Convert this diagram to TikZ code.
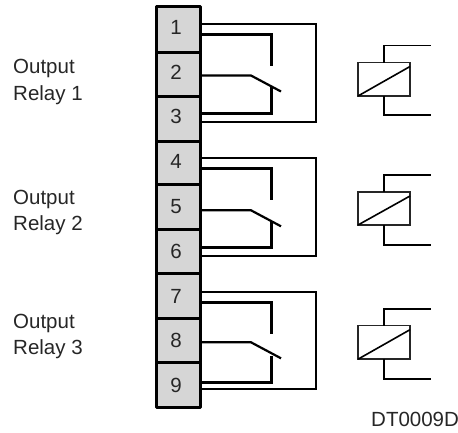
\documentclass[tikz,border=0pt]{standalone}
\usepackage{fontspec}
\setmainfont{Liberation Sans}
\usetikzlibrary{calc}
\newcommand{\dg}[2]{\hspace*{-4.5pt}\raisebox{#1pt}[\height][\depth]{#2}}
\tikzset{
  x=1pt,y=-1pt,
  term/.style={draw=black,line width=3pt,line join=round,outer sep=0pt,fill=black!16,minimum width=43.5pt,inner sep=0pt,font=\fontsize{20.5}{20.5}\selectfont,text=black!85,anchor=north west},
  coil/.style={draw=black!85,line width=1.5pt,outer sep=0pt,fill=white,minimum width=52pt,inner sep=0pt,anchor=north west},
  label/.style={anchor=base west,inner sep=0pt,font=\fontsize{20.5}{20.5}\selectfont,text=black!85},
  thinw/.style={line width=1.7pt,line join=miter},
  thickw/.style={line width=3pt,line join=miter}
}
\newcommand{\relaycontacts}[9]{%
  \coordinate (#1oa) at (316,#5);
  \coordinate (#1ob) at (316,#6);
  \coordinate (#1ta) at (271,#7);
  \coordinate (#1tb) at (271,#7+31.5);
  \coordinate (#1ba) at (271,#8);
  \coordinate (#1bb) at (271,#8-26);
  \coordinate (#1ca) at (251,#9);
  \coordinate (#1cb) at (281,#9+16);
  \draw[thinw] (#2.east |- #1oa) -- (#1oa) -- (#1ob) -- (#4.east |- #1ob);
  \draw[thickw] (#2.east |- #1ta) -- (#1ta) -- (#1tb);
  \draw[thickw] (#4.east |- #1ba) -- (#1ba) -- (#1bb);
  \draw[thinw,line width=2.2pt] (#3.east |- #1ca) -- (#1ca) -- (#1cb);
}
\newcommand{\relaycoil}[5]{%
  \node[coil,minimum height=#3pt] (#1c) at (358,#2) {};
  \coordinate (#1la) at (431,#4);
  \coordinate (#1lb) at (431,#5);
  \draw[thinw] ($(#1c.north west)!0.5!(#1c.north east)$) |- (#1la);
  \draw[thinw] ($(#1c.south west)!0.5!(#1c.south east)$) |- (#1lb);
  \draw[line width=1.6pt] (#1c.south west) -- ($(#1c.north east)+(0,4)$);
}
\begin{document}
\begin{tikzpicture}
\useasboundingbox (0,0) rectangle (458,432);
\node[term,minimum height=46pt] (t1) at (156.5,6) {\dg{1.7}{1}};
\node[term,minimum height=44pt] (t2) at (156.5,52) {\dg{2}{2}};
\node[term,minimum height=45pt] (t3) at (156.5,96) {\dg{1.8}{3}};
\node[term,minimum height=43pt] (t4) at (156.5,141) {\dg{0.8}{4}};
\node[term,minimum height=45pt] (t5) at (156.5,184) {\dg{-0.2}{5}};
\node[term,minimum height=44pt] (t6) at (156.5,229) {\dg{0}{6}};
\node[term,minimum height=45pt] (t7) at (156.5,273) {\dg{-0.5}{7}};
\node[term,minimum height=44pt] (t8) at (156.5,318) {\dg{0}{8}};
\node[term,minimum height=45pt] (t9) at (156.5,362) {\dg{-0.5}{9}};

\relaycontacts{a}{t1}{t2}{t3}{24}{122}{34}{113}{75.5}
\relaycontacts{b}{t4}{t5}{t6}{157.7}{256}{168.7}{247.3}{210.3}
\relaycontacts{d}{t7}{t8}{t9}{292}{389.3}{302.3}{382}{342.3}

\relaycoil{a}{62.5}{33.5}{45.5}{115}
\relaycoil{b}{192}{33}{174.7}{245}
\relaycoil{d}{325.7}{33.5}{308.7}{379}

\node[label] (o1) at (13,73) {Output};
\node[label] (r1) at (13,100) {Relay 1};
\node[label] (o2) at (13,204.3) {Output};
\node[label] (r2) at (13,230.7) {Relay 2};
\node[label] (o3) at (13,328) {Output};
\node[label] (r3) at (13,354) {Relay 3};
\node[label] (dt) at (371,426) {DT0009D};
\end{tikzpicture}
\end{document}
